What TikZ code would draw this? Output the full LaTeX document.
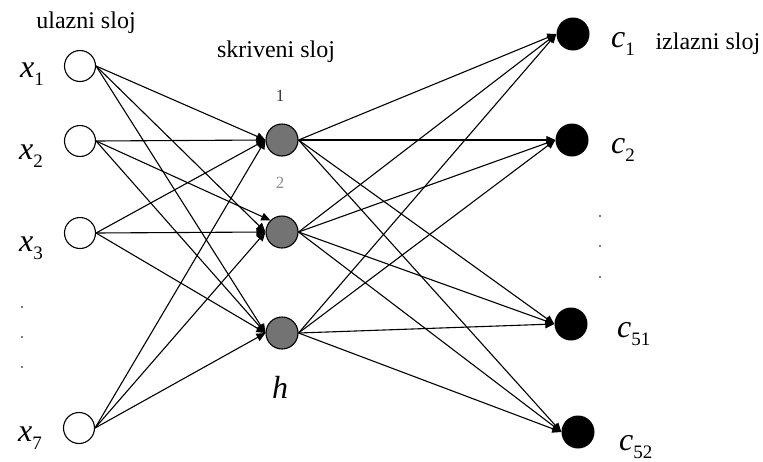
\documentclass[tikz,border=0pt]{standalone}
\usepackage{fontspec}
\setmainfont{Liberation Serif}
\usetikzlibrary{arrows.meta}
\newcommand{\varlab}[2]{{\itshape #1}\raisebox{-0.25em}{\fontsize{19}{20}\selectfont\upshape #2}}
\begin{document}
\begin{tikzpicture}[x=1pt,y=-1pt,
  inp/.style={circle,draw=black,line width=1.1pt,fill=white,minimum size=31pt,inner sep=0pt},
  hid/.style={circle,draw=black,line width=1.1pt,fill=black!55,minimum size=32pt,inner sep=0pt},
  outn/.style={circle,fill=black,minimum size=33pt,inner sep=0pt},
  conn/.style={line width=1.1pt,-{Triangle[length=9pt,width=8pt]}},
  lbl/.style={font=\fontsize{24}{28}\selectfont,anchor=base},
  mlbl/.style={font=\fontsize{32}{36}\selectfont,anchor=base west,inner sep=0pt},
  smalllbl/.style={font=\fontsize{17}{19}\selectfont,anchor=base},
  dotm/.style={circle,fill=black!70,minimum size=2.2pt,inner sep=0pt}]
\useasboundingbox (0,0) rectangle (763,461);
% input layer
\node[inp] (x1) at (80,66) {};
\node[inp] (x2) at (80,141) {};
\node[inp] (x3) at (80,233) {};
\node[inp] (x7) at (79,428) {};
% hidden layer
\node[hid] (h1) at (282,140) {};
\node[hid] (h2) at (282,232) {};
\node[hid] (h3) at (282,333) {};
% output layer
\node[outn] (c1) at (573,34) {};
\node[outn] (c2) at (572,140) {};
\node[outn] (c51) at (571,324) {};
\node[outn] (c52) at (578,432) {};
% input -> hidden
\foreach \i in {x1,x2,x3,x7}{
  \draw[conn] (\i.east) -- (h1.west);
  \draw[conn] (\i.east) -- (h3.west);
}
\draw[conn] (x1.east) -- (h2.west);
\draw[conn] (x2.east) -- (h2.north west);
\draw[conn] (x3.east) -- (h2.west);
\draw[conn] (x7.east) -- (h2.west);
% hidden -> output
\foreach \h in {h1,h2,h3}{
  \foreach \o in {c1,c2,c51,c52}{
    \draw[conn] (\h.east) -- (\o.west);
  }
}
% labels
\node[lbl] (tin) at (86,28) {ulazni sloj};
\node[lbl] (thid) at (276,57) {skriveni sloj};
\node[lbl,anchor=base west] (tout) at (652,49) {izlazni sloj};
\node[smalllbl,text=black!80] (n1) at (280,101) {1};
\node[smalllbl,text=black!45] (n2) at (280,188) {2};
\node[mlbl,anchor=base] (nh) at (280,398) {\itshape h};
\node[mlbl] (lx1) at (20,77) {\varlab{x}{1}};
\node[mlbl] (lx2) at (19,159) {\varlab{x}{2}};
\node[mlbl] (lx3) at (19,251) {\varlab{x}{3}};
\node[mlbl] (lx7) at (18,441) {\varlab{x}{7}};
\node[mlbl] (lc1) at (611,47) {\varlab{c}{1}};
\node[mlbl] (lc2) at (611,153) {\varlab{c}{2}};
\node[mlbl] (lc51) at (617,337) {\varlab{c}{51}};
\node[mlbl] (lc52) at (619,450) {\varlab{c}{52}};
% dots
\node[dotm] (dl1) at (22,307) {};
\node[dotm] (dl2) at (22,337) {};
\node[dotm] (dl3) at (22,367) {};
\node[dotm] (dr1) at (600,216) {};
\node[dotm] (dr2) at (600,246) {};
\node[dotm] (dr3) at (600,277) {};
\end{tikzpicture}
\end{document}
